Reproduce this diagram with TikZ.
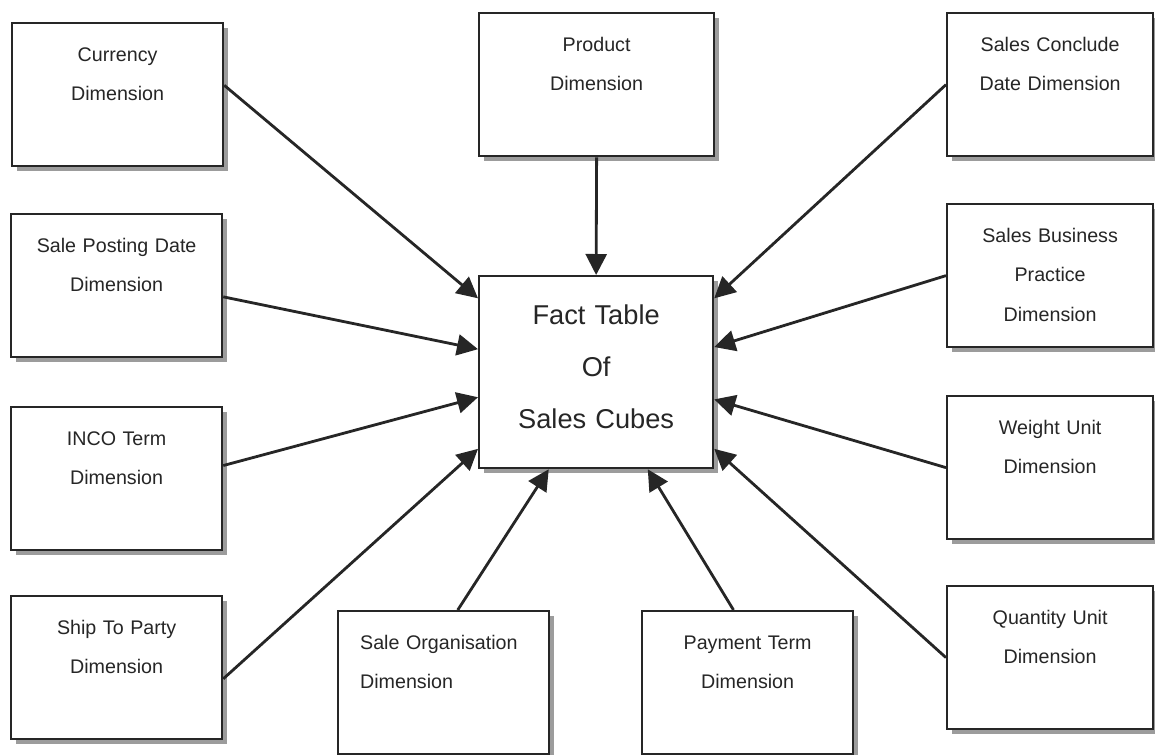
\documentclass[tikz,border=0pt]{standalone}
\usepackage{fontspec}
\setmainfont{Liberation Sans}
\usetikzlibrary{shadows,arrows.meta}
\definecolor{ink}{HTML}{262626}
\definecolor{shade}{HTML}{9C9C9C}

\begin{document}
\begin{tikzpicture}[x=0.02cm,y=-0.02cm,dim/.style={shape=rectangle,draw=ink,line width=1.3pt,fill=white,anchor=north west,inner xsep=0.3cm,inner ysep=0pt,text width=3.62cm,text height=0.76cm,text depth=2.1cm,align=center,text=ink,font=\fontsize{11.2}{22.6}\selectfont,drop shadow={shadow xshift=0.1cm,shadow yshift=-0.1cm,fill=shade,opacity=1}},dimR/.style={dim,text width=3.52cm},fact/.style={dim,text width=4.08cm,text height=0.96cm,text depth=2.88cm,font=\fontsize{15.5}{29.8}\selectfont},arr/.style={draw=ink,line width=1.6pt,-{Triangle[length=0.42cm,width=0.42cm]}}]
\useasboundingbox (0,0) rectangle (1155,754);

% left column
\node[dim] (cur) at (11,22) {Currency\\Dimension};
\node[dim] (post) at (10,213) {Sale Posting Date\\Dimension};
\node[dim] (inco) at (10,406) {INCO Term\\Dimension};
\node[dim] (ship) at (10,595) {Ship To Party\\Dimension};

% middle
\node[dim,text width=4.1cm] (prod) at (478,12) {Product\\Dimension};
\node[fact] (fact) at (478,275) {Fact Table\\Of\\Sales Cubes};
\node[dim,align=left,inner xsep=0.44cm,text width=3.34cm] (org) at (337,610) {Sale Organisation\\Dimension};
\node[dim] (pay) at (641,610) {Payment Term\\Dimension};

% right column
\node[dimR] (conc) at (946,12) {Sales Conclude\\Date Dimension};
\node[dimR] (prac) at (946,203) {Sales Business\\Practice\\Dimension};
\node[dimR] (wgt) at (946,395) {Weight Unit\\Dimension};
\node[dimR] (qty) at (946,585) {Quantity Unit\\Dimension};

% arrows into the fact table
\draw[arr] (cur.5) -- (fact.148);
\draw[arr] (post.-6) -- (fact.169);
\draw[arr] (inco.7) -- (fact.192);
\draw[arr] (ship.-6) -- (fact.213);
\draw[arr] (prod.south) -- (fact.north);
\draw[arr] (org.79) -- (fact.244);
\draw[arr] (pay.101) -- (fact.298);
\draw[arr] (conc.west) -- (fact.32);
\draw[arr] (prac.west) -- (fact.12);
\draw[arr] (wgt.west) -- (fact.347);
\draw[arr] (qty.west) -- (fact.327);
\end{tikzpicture}
\end{document}
